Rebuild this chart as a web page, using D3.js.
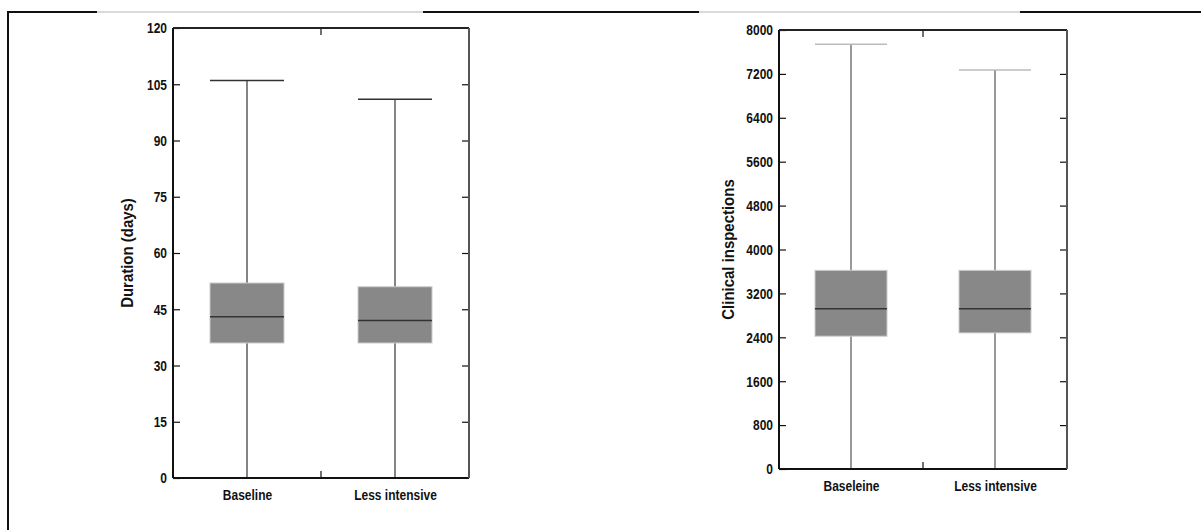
<!DOCTYPE html>
<html>
<head>
	<meta charset="utf-8">
	<title>Box plots</title>
	<style>
		html, body { margin:0; padding:0; background:#fff; }
		body { font-family: "Liberation Sans", Arial, sans-serif; }
		.tick text { font-family: "Liberation Sans", Arial, sans-serif; font-size: 15px; font-weight: bold; fill: #111; }
		.ytitle { font-size: 17px; font-weight: bold; fill: #111; }
	</style>
	<script src="https://d3js.org/d3.v7.min.js"></script>
</head>
<body>
<svg id="chart" width="1201" height="530"></svg>
<script>

	//data: two groups per panel
	var groupsA = ["Baseline", "Less intensive"];
	var minA = [0, 0];
	var q1A = [36, 36];
	var medA = [43, 42];
	var q3A = [52, 51];
	var maxA = [106, 101];
	var ticksA = [0, 15, 30, 45, 60, 75, 90, 105, 120];

	var groupsB = ["Baseleine", "Less intensive"];
	var minB = [0, 0];
	var q1B = [2420, 2480];
	var medB = [2920, 2920];
	var q3B = [3620, 3620];
	var maxB = [7740, 7270];
	var ticksB = [0, 800, 1600, 2400, 3200, 4000, 4800, 5600, 6400, 7200, 8000];

	var svg = d3.select("#chart");
	var narrow = 0.8; //fake a condensed face (no Arial Narrow here)

	//outer frame (left + top)
	function seg(x1, y1, x2, y2, col, w) {
		svg.append("line").attr("x1", x1).attr("y1", y1).attr("x2", x2).attr("y2", y2).style("stroke", col).style("stroke-width", w);
	}
	seg(8, 11, 8, 530, "#111", 2);
	seg(7, 12, 97, 12, "#111", 2);
	seg(97, 12, 423, 12, "#b5b5b5", 1);
	seg(423, 12, 699, 12, "#111", 2);
	seg(699, 12, 1020, 12, "#b5b5b5", 1);
	seg(1020, 12, 1201, 12, "#111", 2);

	function squeeze(sel) {
		sel.selectAll(".tick text").each(function() {
			var t = d3.select(this);
			var x = +t.attr("x") || 0;
			t.attr("x", x / narrow).attr("transform", "scale(" + narrow + ",1)");
		});
	}

	function panel(opt) {
		var g = svg.append("g");
		var x = d3.scalePoint().domain(opt.groups).range([opt.x0, opt.x1]).padding(0.5);
		var y = d3.scaleLinear().domain([0, opt.ticks[opt.ticks.length-1]]).range([opt.y0, opt.y1]);
		var bw = opt.boxW;

		//boxes and whiskers
		opt.groups.forEach(function(c, i) {
			var cx = x(c);
			g.append("line").attr("x1", cx).attr("x2", cx).attr("y1", y(opt.min[i])).attr("y2", y(opt.max[i]))
				.style("stroke", opt.whisker).style("stroke-width", 1.2);
			g.append("line").attr("x1", cx - bw/2).attr("x2", cx + bw/2).attr("y1", y(opt.max[i])).attr("y2", y(opt.max[i]))
				.style("stroke", opt.cap).style("stroke-width", 1.5);
			g.append("rect").attr("x", cx - bw/2).attr("width", bw)
				.attr("y", y(opt.q3[i])).attr("height", y(opt.q1[i]) - y(opt.q3[i]))
				.style("fill", "#888").style("stroke", "#ccc").style("stroke-width", 1);
			g.append("line").attr("x1", cx - bw/2).attr("x2", cx + bw/2).attr("y1", y(opt.med[i])).attr("y2", y(opt.med[i]))
				.style("stroke", "#333").style("stroke-width", 1.5);
		});

		//axes
		var yl = d3.axisLeft(y).tickValues(opt.ticks).tickSize(-7).tickPadding(6).tickFormat(d3.format("d"));
		var ga = g.append("g").attr("transform", "translate(" + opt.x0 + ",0)").call(yl);
		ga.select(".domain").remove();
		ga.selectAll(".tick line").style("stroke", "#111").style("stroke-width", 1.2);
		squeeze(ga);

		var yr = d3.axisRight(y).tickValues(opt.ticks.slice(1, -1)).tickSize(-7).tickFormat("");
		var gr = g.append("g").attr("transform", "translate(" + opt.x1 + ",0)").call(yr);
		gr.select(".domain").remove();
		gr.selectAll(".tick line").style("stroke", "#111").style("stroke-width", 1.2);

		var xb = d3.axisBottom(x).tickSize(0).tickPadding(11);
		var gb = g.append("g").attr("transform", "translate(0," + opt.y0 + ")").call(xb);
		gb.select(".domain").remove();
		squeeze(gb);

		//middle ticks top and bottom
		var mx = (opt.x0 + opt.x1) / 2;
		g.append("line").attr("x1", mx).attr("x2", mx).attr("y1", opt.y1).attr("y2", opt.y1 + 7).style("stroke", "#111").style("stroke-width", 1.2);
		g.append("line").attr("x1", mx).attr("x2", mx).attr("y1", opt.y0).attr("y2", opt.y0 - 7).style("stroke", "#111").style("stroke-width", 1.2);

		//frame
		g.append("line").attr("x1", opt.x0).attr("x2", opt.x0).attr("y1", opt.y1).attr("y2", opt.y0).style("stroke", "#111").style("stroke-width", 2);
		g.append("line").attr("x1", opt.x0).attr("x2", opt.x1).attr("y1", opt.y0).attr("y2", opt.y0).style("stroke", "#111").style("stroke-width", 2);
		g.append("line").attr("x1", opt.x0).attr("x2", opt.x1).attr("y1", opt.y1).attr("y2", opt.y1).style("stroke", "#222").style("stroke-width", 2);
		g.append("line").attr("x1", opt.x1).attr("x2", opt.x1).attr("y1", opt.y1).attr("y2", opt.y0).style("stroke", "#555").style("stroke-width", 2);

		//y title
		g.append("text").attr("class", "ytitle")
			.attr("transform", "translate(" + opt.titleX + "," + ((opt.y0 + opt.y1) / 2) + ") rotate(-90) scale(0.88,1)")
			.style("text-anchor", "middle").text(opt.title);
	}

	panel({groups: groupsA, min: minA, q1: q1A, med: medA, q3: q3A, max: maxA, ticks: ticksA,
		x0: 173, x1: 469, y0: 478, y1: 28, boxW: 74, whisker: "#333", cap: "#333",
		title: "Duration (days)", titleX: 133});

	panel({groups: groupsB, min: minB, q1: q1B, med: medB, q3: q3B, max: maxB, ticks: ticksB,
		x0: 779, x1: 1067, y0: 469, y1: 30, boxW: 72, whisker: "#555", cap: "#bbb",
		title: "Clinical inspections", titleX: 734});

</script>
</body>
</html>
